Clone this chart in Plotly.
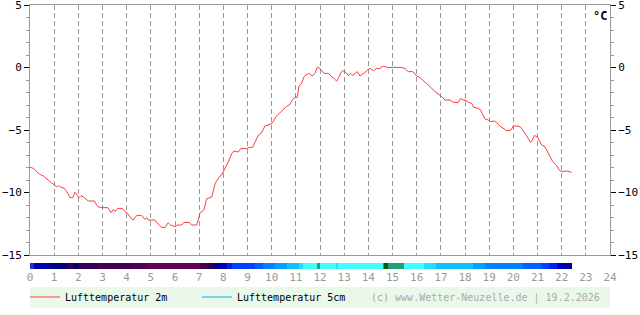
import plotly.graph_objects as go

# ---- data ----
hours = [0.00, 0.14, 0.28, 0.41, 0.55, 0.69, 0.83, 1.01, 1.10, 1.17, 1.28, 1.42, 1.52, 1.66, 1.77, 1.86,
         1.93, 2.03, 2.11, 2.25, 2.41, 2.66, 2.80, 2.99, 3.22, 3.35, 3.45, 3.52, 3.63, 3.82, 3.93, 4.04,
         4.18, 4.27, 4.42, 4.62, 4.76, 4.83, 4.90, 5.17, 5.31, 5.45, 5.59, 5.72, 5.82, 6.00, 6.10, 6.28,
         6.37, 6.59, 6.69, 6.90, 6.96, 7.03, 7.20, 7.31, 7.52, 7.66, 7.75, 7.86, 7.93, 8.07, 8.21, 8.35,
         8.44, 8.62, 8.72, 8.97, 9.07, 9.21, 9.31, 9.45, 9.59, 9.68, 9.72, 9.93, 10.04, 10.18, 10.32, 10.48,
         10.62, 10.73, 10.87, 10.97, 11.06, 11.13, 11.24, 11.34, 11.42, 11.56, 11.66, 11.72, 11.79, 11.89,
         12.00, 12.07, 12.17, 12.34, 12.48, 12.59, 12.69, 12.80, 12.86, 12.96, 13.08, 13.17, 13.27, 13.35,
         13.45, 13.54, 13.66, 13.79, 13.90, 14.00, 14.07, 14.21, 14.35, 14.48, 14.62, 14.76, 14.97, 15.38,
         15.52, 15.65, 15.84, 16.00, 16.14, 16.34, 16.55, 16.76, 16.90, 17.04, 17.17, 17.38, 17.52, 17.72,
         17.82, 17.93, 18.07, 18.14, 18.28, 18.37, 18.55, 18.65, 18.73, 18.83, 18.96, 19.06, 19.20, 19.31,
         19.42, 19.56, 19.70, 19.89, 20.00, 20.14, 20.28, 20.39, 20.52, 20.62, 20.72, 20.79, 20.87, 20.99,
         21.08, 21.17, 21.27, 21.38, 21.52, 21.63, 21.77, 21.90, 22.00, 22.14, 22.23, 22.41]
temp_2m = [-7.98, -8.07, -8.33, -8.55, -8.68, -8.87, -9.13, -9.40, -9.53, -9.45, -9.58, -9.67, -9.93, -10.41, -10.41, -9.99,
           -10.15, -10.41, -10.25, -10.41, -10.68, -10.68, -11.13, -11.21, -11.21, -11.61, -11.35, -11.53, -11.27, -11.27, -11.53, -11.67,
           -12.07, -12.20, -11.83, -11.83, -12.15, -12.01, -12.20, -12.20, -12.55, -12.79, -12.79, -12.41, -12.60, -12.73, -12.60, -12.60,
           -12.39, -12.39, -12.60, -12.60, -12.20, -11.67, -11.38, -10.50, -10.36, -9.27, -9.00, -8.68, -8.60, -8.07, -7.53, -6.87,
           -6.68, -6.76, -6.49, -6.49, -6.39, -6.39, -5.93, -5.40, -5.19, -4.87, -4.68, -4.55, -4.41, -3.93, -3.67, -3.30,
           -3.10, -3.00, -2.55, -2.39, -2.39, -1.50, -1.27, -0.73, -0.60, -0.47, -0.68, -0.63, -0.47, 0.01,
           -0.07, -0.25, -0.47, -0.47, -0.73, -0.87, -1.08, -0.73, -0.41, -0.25, -0.41, -0.63, -0.47, -0.63,
           -0.47, -0.33, -0.68, -0.52, -0.33, -0.15, -0.07, -0.25, -0.07, -0.07, 0.12, 0.01, 0.01, 0.01,
           -0.09, -0.33, -0.33, -0.68, -0.82, -1.13, -1.53, -1.93, -2.12, -2.33, -2.60, -2.60, -2.79, -2.79,
           -2.47, -2.60, -2.65, -2.79, -2.87, -3.19, -3.27, -3.40, -3.75, -4.12, -4.20, -4.33, -4.28, -4.39,
           -4.65, -4.81, -5.03, -5.03, -4.68, -4.68, -4.73, -5.00, -5.40, -5.67, -5.99, -5.80, -5.45, -5.53,
           -5.83, -6.20, -6.28, -6.60, -7.13, -7.53, -7.80, -8.20, -8.33, -8.33, -8.28, -8.39]
# 5 cm sensor: no valid readings on this day (legend entry only)
temp_5cm = [None] * len(hours)

band_edges = [0.00, 0.17, 0.83, 1.57, 1.82, 1.99, 2.81, 4.26, 4.84, 7.03, 7.32, 7.57, 7.86, 8.15, 8.36,
              9.31, 9.64, 10.14, 10.63, 11.13, 11.30, 11.88, 12.00, 12.66, 12.74, 14.61, 14.65, 14.81,
              15.48, 16.30, 16.80, 18.33, 18.83, 20.40, 21.14, 21.48, 21.81, 22.43]
band_colors = ["#1232e4", "#0000b0", "#000080", "#300060", "#000070", "#300058", "#450055", "#500058",
               "#600058", "#450055", "#300058", "#000080", "#0000b0", "#0020e0", "#0040ff", "#0060ff",
               "#0080ff", "#00a0ff", "#10c0ff", "#20e0ff", "#40ffff", "#20a080", "#40ffff", "#20e0ff",
               "#40ffff", "#20a080", "#006000", "#20a070", "#40ffff", "#20e0ff", "#10c0ff", "#00a0ff",
               "#0080ff", "#0060ff", "#0040ff", "#0020ee", "#0000aa"]

x_ticks = list(range(0, 25))
y_ticks = [5, 0, -5, -10, -15]

MONO = "DejaVu Sans Mono"
GRID = "#999999"

fig = go.Figure()

fig.add_trace(go.Scatter(x=hours, y=temp_2m, mode="lines", name="Lufttemperatur 2m",
                         line=dict(color="#ff3b3b", width=1), xaxis="x", yaxis="y"))
fig.add_trace(go.Scatter(x=hours, y=temp_5cm, mode="lines", name="Lufttemperatur 5cm",
                         line=dict(color="#10a8e8", width=1), xaxis="x", yaxis="y"))

fig.add_trace(go.Bar(y=[0] * (len(band_edges) - 1),
                     x=[b - a for a, b in zip(band_edges[:-1], band_edges[1:])],
                     base=band_edges[:-1], orientation="h", width=1,
                     marker=dict(color=band_colors, line=dict(width=0)),
                     xaxis="x2", yaxis="y2", showlegend=False, hoverinfo="skip"))

# right axis companion
fig.add_trace(go.Scatter(x=[], y=[], xaxis="x", yaxis="y3", showlegend=False))

H = 264.0
main_bottom = (269 - 255) / H
bar_top = (269 - 263) / H

yax_common = dict(range=[-15, 5], tickvals=y_ticks, ticks="outside", ticklen=5, tickcolor="#000000",
                  tickwidth=1, showline=True, linecolor=GRID, linewidth=1, showgrid=False, zeroline=False,
                  tickfont=dict(family=MONO, size=11, color="#000000"), ticklabeloverflow="allow",
                  minor=dict(dtick=1, ticks="outside", ticklen=3, tickcolor=GRID, tick0=0),
                  domain=[main_bottom, 1], fixedrange=True, automargin=False)

fig.update_layout(
    width=640, height=315,
    margin=dict(l=30, r=30, t=5, b=46, autoexpand=False),
    paper_bgcolor="white", plot_bgcolor="white",
    showlegend=True,
    barmode="overlay",
    bargap=0,
    xaxis=dict(range=[0, 24], domain=[0, 1], anchor="y", dtick=1, showgrid=True, gridcolor=GRID,
               griddash="5px,3px", gridwidth=1, showticklabels=False, ticks="", showline=True,
               linecolor=GRID, linewidth=1, mirror=True, zeroline=False, fixedrange=True,
               automargin=False),
    xaxis2=dict(range=[0, 24], domain=[0, 1], anchor="y2", tickvals=x_ticks,
                ticktext=[str(t) for t in x_ticks], ticks="", showgrid=False, showline=False,
                zeroline=False, tickfont=dict(family=MONO, size=11, color="#999999"), fixedrange=True,
                automargin=False),
    yaxis=dict(anchor="x", side="left", **yax_common),
    yaxis3=dict(anchor="x", side="right", overlaying="y", **yax_common),
    yaxis2=dict(domain=[0, bar_top], range=[-0.5, 0.5], visible=False, anchor="x2", fixedrange=True),
    legend=dict(orientation="h", x=-5 / 580, xanchor="left", y=(269 - 297) / H, yanchor="middle",
                bgcolor="rgba(0,0,0,0)", font=dict(family=MONO, size=10, color="#000000"),
                entrywidth=127, entrywidthmode="pixels", itemwidth=30),
    shapes=[dict(type="rect", xref="paper", yref="paper", x0=0, x1=1,
                 y0=(269 - 308) / H, y1=(269 - 287) / H, fillcolor="#eaf8ea",
                 line=dict(width=0), layer="below")],
    annotations=[
        dict(text="<b>°C</b>", xref="paper", yref="paper", x=(600 - 30) / 580, y=(269 - 16) / H,
             showarrow=False, font=dict(family=MONO, size=12, color="#000000"),
             xanchor="center", yanchor="middle"),
        dict(text="(c) www.Wetter-Neuzelle.de | 19.2.2026", xref="paper", yref="paper",
             x=(602 - 30) / 580, y=(269 - 297.5) / H, xanchor="right", yanchor="middle",
             showarrow=False, font=dict(family=MONO, size=10, color="#aaaaaa")),
    ],
)

fig.write_html("out.html", config={"displayModeBar": False, "staticPlot": True})
